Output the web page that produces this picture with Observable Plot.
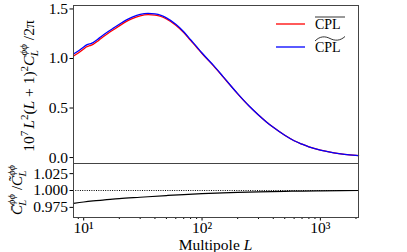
<!DOCTYPE html>
<html><head><meta charset="utf-8">
<script src="https://cdn.jsdelivr.net/npm/d3@7"></script>
<script src="https://cdn.jsdelivr.net/npm/@observablehq/plot@0.6"></script>
<style>
body{margin:0;background:#fff}
#wrap{position:relative;width:407px;height:252px;font-family:"Liberation Serif",serif;overflow:hidden}
#wrap svg{position:absolute;left:0;overflow:visible}
</style>
</head><body><div id="wrap"></div>
<script>
// Multipole values
const multipoles = [8.2, 9, 10, 10.5, 11, 11.5, 12, 13, 14, 16, 18, 20, 23, 26, 30, 35, 40, 45, 50, 60, 70, 80, 90, 100, 125, 150, 175, 200, 250, 300, 350, 400, 500, 600, 700, 800, 1000, 1300, 1600, 2000, 2100];
// CPL tilde (blue)
const cplTilde = [1.045, 1.075, 1.115, 1.135, 1.145, 1.15, 1.16, 1.19, 1.22, 1.27, 1.31, 1.345, 1.39, 1.42, 1.445, 1.455, 1.45, 1.435, 1.41, 1.345, 1.27, 1.19, 1.12, 1.055, 0.93, 0.82, 0.725, 0.645, 0.52, 0.43, 0.36, 0.305, 0.225, 0.17, 0.135, 0.108, 0.075, 0.048, 0.033, 0.022, 0.02];
// CPL bar (red)
const cplBar = [1.025, 1.056, 1.096, 1.116, 1.126, 1.132, 1.142, 1.172, 1.202, 1.252, 1.293, 1.329, 1.375, 1.405, 1.431, 1.442, 1.438, 1.424, 1.399, 1.336, 1.262, 1.183, 1.114, 1.050, 0.926, 0.817, 0.723, 0.643, 0.519, 0.429, 0.359, 0.305, 0.225, 0.17, 0.135, 0.108, 0.075, 0.048, 0.033, 0.022, 0.02];
// ratio panel
const ratioL = [8.2, 10, 12, 15, 20, 30, 50, 70, 100, 150, 200, 300, 500, 700, 1000, 1500, 2100];
const ratioVals = [0.981, 0.983, 0.9845, 0.986, 0.988, 0.990, 0.9925, 0.994, 0.9953, 0.9965, 0.9972, 0.998, 0.9988, 0.9992, 0.9995, 0.9998, 1.0];
// ticks
const topTicks = [0, 0.5, 1.0, 1.5];
const ratioTicks = [0.975, 1.0, 1.025];
const majorX = [10, 100, 1000];
const majorXLabels = ["10¹", "10²", "10³"];
const minorX = [9, 20, 30, 40, 50, 60, 70, 80, 90, 200, 300, 400, 500, 600, 700, 800, 900, 2000];
const seriesNames = ["CPL", "CPL"];

const data = multipoles.map((L, i) => ({L, bar: cplBar[i], tilde: cplTilde[i]}));
const rdata = ratioL.map((L, i) => ({L, r: ratioVals[i]}));
const xDomain = [8.2, 2100];
const font = {fontFamily: "Liberation Serif", fontSize: "15.5px", color: "#000", background: "transparent"};
const W = 407, ML = 73, MR = 49;

const topPlot = Plot.plot({
  width: W, height: 164, marginLeft: ML, marginRight: MR, marginTop: 5, marginBottom: 1,
  x: {type: "log", domain: xDomain, axis: null},
  y: {domain: [-0.06, 1.535]},
  style: font,
  marks: [
    Plot.line(data, {x: "L", y: "bar", stroke: "#ff0000", strokeWidth: 1.3, curve: "monotone-x"}),
    Plot.line(data, {x: "L", y: "tilde", stroke: "#0000ff", strokeWidth: 1.3, curve: "monotone-x"}),
    Plot.axisY({ticks: topTicks, tickFormat: d => d.toFixed(1), tickSize: 3.5, tickPadding: 2, label: null, fontSize: 15.5}),
    Plot.frame({stroke: "#444", strokeWidth: 1})
  ]
});
topPlot.style.top = "0px";

const bottomPlot = Plot.plot({
  width: W, height: 90, marginLeft: ML, marginRight: MR, marginTop: 1, marginBottom: 35,
  x: {type: "log", domain: xDomain},
  y: {domain: [0.96, 1.04]},
  style: font,
  marks: [
    Plot.ruleY([1], {stroke: "#000", strokeWidth: 1, strokeDasharray: "1,1.3"}),
    Plot.line(rdata, {x: "L", y: "r", stroke: "#000", strokeWidth: 1.2, curve: "monotone-x"}),
    Plot.axisY({ticks: ratioTicks, tickFormat: d => d.toFixed(3), tickSize: 3.5, tickPadding: 2, label: null, fontSize: 15.5}),
    Plot.axisX({ticks: majorX, tickFormat: d => majorXLabels[majorX.indexOf(d)], tickSize: 3.5, tickPadding: 1, label: null, fontSize: 15.5}),
    Plot.axisX({ticks: minorX, tickFormat: () => "", tickSize: 2, label: null}),
    Plot.frame({stroke: "#444", strokeWidth: 1})
  ]
});
bottomPlot.style.top = "162px";

const wrap = document.getElementById("wrap");
wrap.appendChild(topPlot);
wrap.appendChild(bottomPlot);

// overlay: axis titles and legend
const ns = "http://www.w3.org/2000/svg";
const ov = document.createElementNS(ns, "svg");
ov.setAttribute("width", W); ov.setAttribute("height", 252);
ov.style.top = "0px";
ov.innerHTML = `
<g font-family="Liberation Serif" font-size="15.5" fill="#000">
  <text transform="translate(34,86) rotate(-90)" text-anchor="middle">10<tspan font-size="11" dy="-6">7</tspan><tspan dy="6" dx="2" font-style="italic">L</tspan><tspan font-size="11" dy="-6">2</tspan><tspan dy="6">(</tspan><tspan font-style="italic">L</tspan><tspan> + 1)</tspan><tspan font-size="11" dy="-6">2</tspan><tspan dy="6" font-style="italic">C</tspan><tspan font-size="11" font-style="italic" dy="-7">ϕϕ</tspan><tspan font-size="11" font-style="italic" dx="-12" dy="11">L</tspan><tspan dx="6" dy="-4"> /2π</tspan></text>
  <text transform="translate(22,190) rotate(-90)" text-anchor="middle" font-size="15"><tspan font-style="italic">C\u0304</tspan><tspan font-size="10.5" font-style="italic" dy="-7">ϕϕ</tspan><tspan font-size="10.5" font-style="italic" dx="-11.5" dy="11">L</tspan><tspan dx="6" dy="-4"> /</tspan><tspan font-style="italic">C\u0303</tspan><tspan font-size="10.5" font-style="italic" dy="-7">ϕϕ</tspan><tspan font-size="10.5" font-style="italic" dx="-11.5" dy="11">L</tspan></text>
  <text x="215.5" y="249.5" text-anchor="middle">Multipole <tspan font-style="italic">L</tspan></text>
  <line x1="276" x2="305" y1="24" y2="24" stroke="#ff0000" stroke-width="1.3"/>
  <line x1="276" x2="305" y1="47" y2="47" stroke="#0000ff" stroke-width="1.3"/>
  <text x="315" y="29" font-size="14">${seriesNames[0]}</text>
  <line x1="315" x2="345" y1="17" y2="17" stroke="#000" stroke-width="0.8"/>
  <text x="315" y="52" font-size="14">${seriesNames[1]}</text>
  <path d="M315,41 C320,36 325,36 330,38.5 S340,41 345,36.5" fill="none" stroke="#000" stroke-width="0.8"/>
</g>`;
wrap.appendChild(ov);
</script>
</body></html>
